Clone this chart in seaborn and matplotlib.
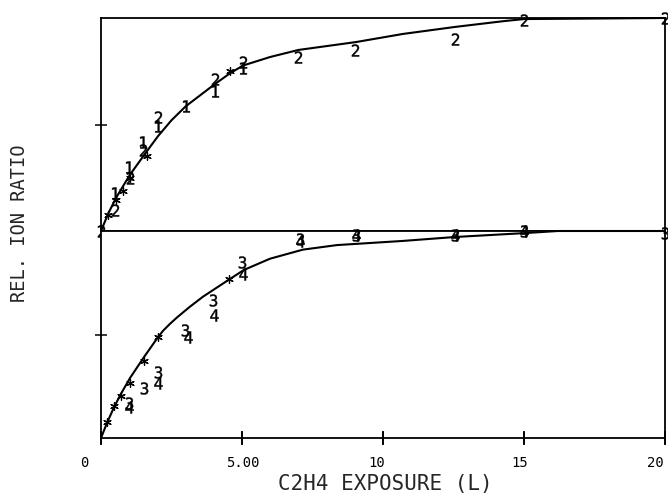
import matplotlib
matplotlib.use("Agg")
import matplotlib.pyplot as plt
import matplotlib.transforms as mtransforms
import seaborn as sns

# ---------------- data ----------------
# upper panel
up_curve_x = [0, 0.25, 0.53, 0.78, 1.03, 1.63, 2.02, 2.5, 3.0, 4.04, 4.57, 5.04, 6.0, 7.0, 9.04, 10.7, 12.55, 14.26, 15.0, 20.0]
up_curve_y = [0, 0.08, 0.155, 0.21, 0.265, 0.375, 0.445, 0.52, 0.585, 0.69, 0.74, 0.777, 0.817, 0.85, 0.887, 0.925, 0.958, 0.985, 0.995, 1.0]
up_s1_x = [0.5, 1.0, 1.5, 2.02, 3.0, 4.04, 5.04]
up_s1_y = [0.178, 0.30, 0.418, 0.493, 0.587, 0.657, 0.765]
up_s2_x = [0, 0.5, 1.03, 1.5, 2.02, 4.04, 5.04, 7.0, 9.0, 12.55, 15.0, 20.0]
up_s2_y = [0, 0.10, 0.25, 0.38, 0.535, 0.714, 0.793, 0.817, 0.85, 0.90, 0.99, 1.0]
up_star_x = [0.25, 0.53, 0.78, 1.03, 1.63, 4.57]
up_star_y = [0.075, 0.146, 0.188, 0.249, 0.352, 0.751]

# lower panel
lo_curve_x = [0, 0.21, 0.46, 0.71, 1.03, 1.52, 2.02, 2.2, 2.45, 2.7, 3.16, 3.62, 4.57, 5.07, 5.99, 7.16, 8.37, 10.7, 12.55, 15.04, 16.2, 20.0]
lo_curve_y = [0, 0.072, 0.148, 0.214, 0.29, 0.39, 0.487, 0.518, 0.552, 0.583, 0.635, 0.683, 0.768, 0.812, 0.866, 0.91, 0.932, 0.952, 0.971, 0.99, 1.0, 1.0]
lo_s3_x = [1.0, 1.52, 2.02, 2.98, 3.97, 5.0, 7.05, 9.04, 12.55, 15.0, 20.0]
lo_s3_y = [0.17, 0.242, 0.319, 0.52, 0.667, 0.85, 0.96, 0.98, 0.98, 1.0, 0.99]
lo_s4_x = [1.0, 2.02, 3.1, 4.0, 5.04, 7.05, 9.04, 12.55, 15.0]
lo_s4_y = [0.15, 0.266, 0.49, 0.594, 0.792, 0.95, 0.98, 0.98, 1.0]
lo_star_x = [0.21, 0.46, 0.71, 1.03, 1.53, 2.02, 4.54]
lo_star_y = [0.077, 0.155, 0.205, 0.265, 0.372, 0.49, 0.77]

x_ticks = [0, 5, 10, 15, 20]
x_ticklabels = ["0", "5.00", "10", "15", "20"]
x_label = "C2H4 EXPOSURE (L)"
y_label = "REL. ION RATIO"

# ---------------- style ----------------
sns.set_theme(style="ticks")
plt.rcParams["font.family"] = ["DejaVu Sans Mono", "DejaVu Sans"]
plt.rcParams["mathtext.fontset"] = "custom"
plt.rcParams["mathtext.rm"] = "DejaVu Sans Mono"
plt.rcParams["mathtext.it"] = "DejaVu Sans Mono"
plt.rcParams["xtick.bottom"] = True
plt.rcParams["ytick.left"] = True
plt.rcParams["xtick.major.size"] = 8
plt.rcParams["ytick.major.size"] = 8
plt.rcParams["xtick.major.width"] = 1.1
plt.rcParams["ytick.major.width"] = 1.1
plt.rcParams["xtick.direction"] = "inout"
plt.rcParams["ytick.direction"] = "inout"
plt.rcParams["xtick.color"] = "black"
plt.rcParams["ytick.color"] = "black"

fig = plt.figure(figsize=(6.68, 4.93), dpi=100)
fig.patch.set_facecolor("white")
L, W = 101 / 668, 564 / 668
ax_up = fig.add_axes([L, 1 - 231 / 493, W, 213 / 493])
ax_lo = fig.add_axes([L, 1 - 438 / 493, W, 207 / 493])

def style_axes(ax):
    ax.set_xlim(0, 20)
    ax.set_ylim(0, 1)
    ax.set_facecolor("white")
    for sp in ax.spines.values():
        sp.set_visible(True)
        sp.set_color("black")
        sp.set_linewidth(1.3)
    ax.set_yticks([0.5])
    ax.set_yticklabels([])
    ax.set_xlabel("")
    ax.set_ylabel("")

def draw_digit(ax, xs, ys, d):
    sns.scatterplot(x=xs, y=ys, ax=ax, marker="$\\mathrm{%s}$" % d, s=75,
                    color="black", linewidth=0.3, edgecolor="black", legend=False, zorder=3)

def draw_star(ax, xs, ys):
    sns.scatterplot(x=xs, y=ys, ax=ax, marker=(6, 2, 0), s=30,
                    color="black", linewidth=0.9, legend=False, zorder=3)

# upper panel
sns.lineplot(x=up_curve_x, y=up_curve_y, ax=ax_up, sort=False, color="black", linewidth=1.5, estimator=None)
draw_star(ax_up, up_star_x, up_star_y)
draw_digit(ax_up, up_s1_x, up_s1_y, "1")
draw_digit(ax_up, up_s2_x, up_s2_y, "2")
style_axes(ax_up)
ax_up.set_xticks([])

# lower panel
sns.lineplot(x=lo_curve_x, y=lo_curve_y, ax=ax_lo, sort=False, color="black", linewidth=1.5, estimator=None)
draw_star(ax_lo, lo_star_x, lo_star_y)
draw_digit(ax_lo, lo_s3_x, lo_s3_y, "3")
draw_digit(ax_lo, lo_s4_x, lo_s4_y, "4")
# tick marks crossing the bottom axis (plotter style)
sns.scatterplot(x=x_ticks, y=[0] * len(x_ticks), ax=ax_lo, marker="|", s=110,
                color="black", linewidth=1.3, legend=False, zorder=4)
style_axes(ax_lo)
ax_lo.set_xticks(x_ticks)
ax_lo.set_xticklabels(x_ticklabels, fontsize=10)
ax_lo.tick_params(axis="x", which="major", bottom=True, length=8, width=1.1,
                  direction="inout", color="black", pad=9)

# small horizontal nudges of tick labels, as in the plotter output (pixels)
label_shift_px = [-17, 1, -6, -4, -10]
for lab, dx in zip(ax_lo.get_xticklabels(), label_shift_px):
    lab.set_transform(lab.get_transform() + mtransforms.ScaledTranslation(dx / 100, 0, fig.dpi_scale_trans))

for a in (ax_up, ax_lo):
    for line in a.lines:
        line.set_clip_on(False)
    for c in a.collections:
        c.set_clip_on(False)

fig.text(385 / 668, 1 - 484 / 493, x_label, ha="center", va="center", fontsize=15)
fig.text(20 / 668, 1 - 223 / 493, y_label, ha="center", va="center", rotation=90, fontsize=13.5)

fig.savefig("out.png", dpi=100, facecolor="white")
